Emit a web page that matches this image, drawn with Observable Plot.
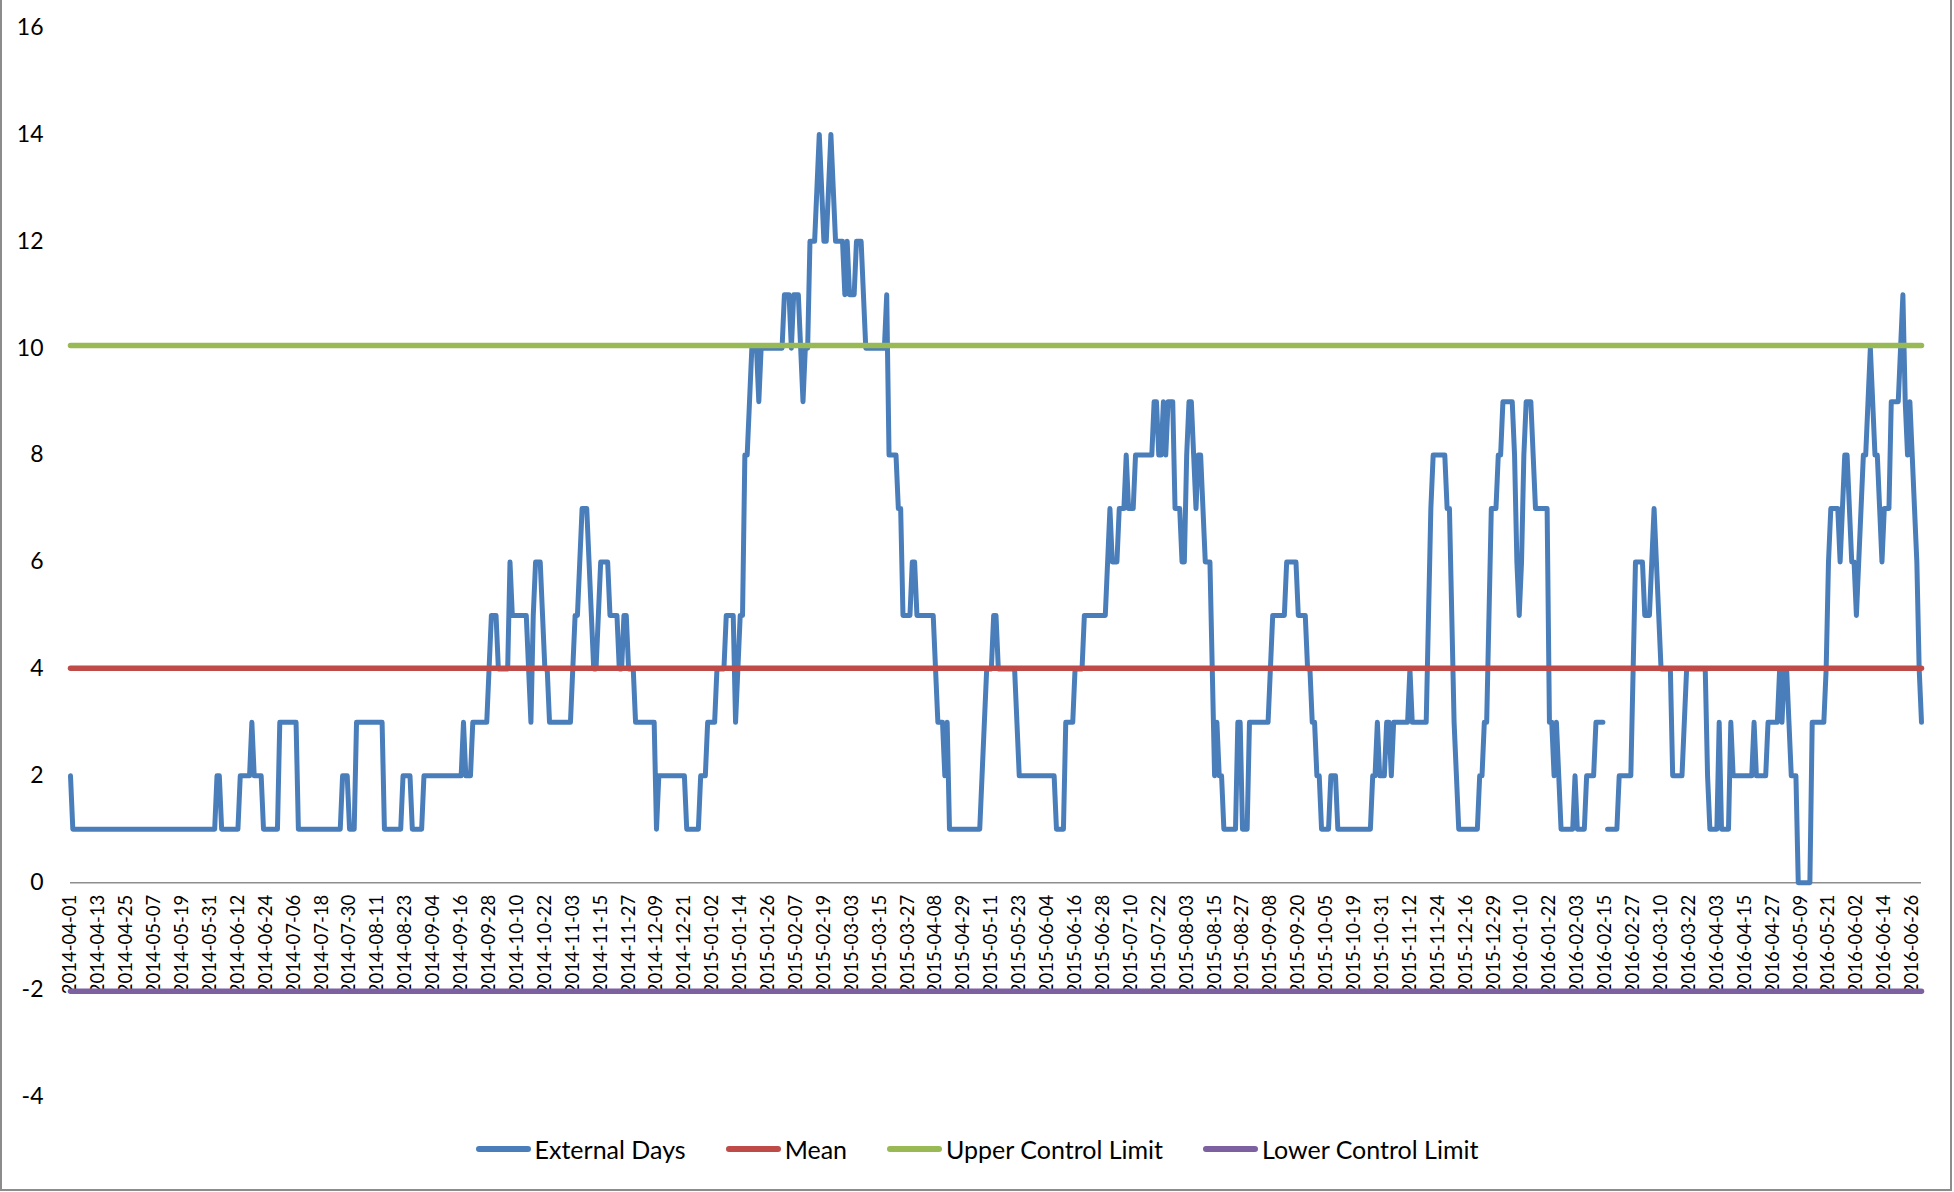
<!DOCTYPE html>
<html>
<head>
<meta charset="utf-8">
<script src="https://cdn.jsdelivr.net/npm/d3@7"></script>
<script src="https://cdn.jsdelivr.net/npm/@observablehq/plot@0.6"></script>
<style>
  html, body { margin: 0; padding: 0; background: #fff; }
  #wrap { position: relative; width: 1954px; height: 1192px; overflow: hidden; font-family: Lato, "Open Sans", sans-serif; }
  #frame { position: absolute; left: 0; top: -3px; width: 1948px; height: 1190px; border: 2px solid #8c8c8c; pointer-events: none; }
  #legend { display: flex; justify-content: center; align-items: center; height: 78px; font-size: 25px; color: #000; }
  .item { display: flex; align-items: center; margin: 0 20px; }
  .sw { display: inline-block; width: 55px; height: 6px; border-radius: 3px; margin-right: 4px; }
</style>
</head>
<body>
<div id="wrap">
  <div id="chart"></div>
  <div id="legend"></div>
  <div id="frame"></div>
</div>
<script>
const externalDaysRuns = [
  [2,1],[1,62],[2,2],[1,8],[2,5],[3,1],[2,4],[1,7],[3,8],[1,19],[2,3],[1,3],[3,12],[1,8],[2,4],[1,5],
  [2,17],[3,1],[2,3],[3,7],[4,1],[5,3],[4,5],[6,1],[5,7],[4,1],[3,1],[5,1],[6,3],[5,1],[4,2],[3,10],
  [4,1],[5,2],[6,1],[7,3],[6,1],[5,1],[4,2],[5,1],[6,4],[5,4],[4,2],[5,2],[4,3],[3,9],[1,1],[2,12],
  [1,6],[2,3],[3,4],[4,4],[5,4],[3,1],[4,1],[5,2],[8,2],[9,1],[10,3],[9,1],[10,10],[11,3],[10,1],[11,3],
  [10,1],[9,1],[10,2],[12,3],[13,1],[14,1],[13,1],[12,2],[13,1],[14,1],[13,1],[12,4],[11,1],[12,1],[11,3],
  [12,3],[11,1],[10,9],[11,1],[8,4],[7,2],[5,4],[6,2],[5,8],[4,1],[3,3],[2,1],[3,1],[1,14],[2,1],[3,1],
  [4,3],[5,2],[4,8],[3,1],[2,16],[1,4],[3,4],[4,4],[5,10],[6,1],[7,1],[6,3],[7,3],[8,1],[7,3],[8,8],
  [9,2],[8,2],[9,1],[8,1],[9,3],[7,3],[6,2],[8,1],[9,2],[8,1],[7,1],[8,2],[7,1],[6,3],[4,1],[2,1],[3,1],
  [2,2],[1,6],[3,2],[1,3],[3,9],[4,1],[5,6],[6,5],[5,4],[4,2],[3,2],[2,2],[1,4],[2,3],[1,15],[2,2],[3,1],
  [2,3],[3,2],[2,1],[3,7],[4,1],[3,7],[5,1],[7,1],[8,6],[7,2],[5,1],[3,1],[2,1],[1,9],[2,2],[3,2],[5,1],
  [7,3],[8,2],[9,5],[8,1],[6,1],[5,1],[6,1],[8,1],[9,3],[8,1],[7,6],[3,2],[2,1],[3,1],[2,1],[1,6],[2,1],
  [1,4],[2,4],[3,4],[null,1],[1,5],[2,6],[4,1],[6,4],[5,3],[6,1],[7,1],[6,1],[5,1],[4,5],[2,5],[3,1],
  [4,9],[2,1],[1,4],[3,1],[1,4],[3,1],[2,9],[3,1],[2,5],[3,5],[4,1],[3,1],[4,2],[3,1],[2,3],[0,6],[3,6],
  [4,1],[6,1],[7,4],[6,1],[7,1],[8,2],[7,1],[6,2],[5,1],[6,1],[7,1],[8,2],[9,1],[10,1],[9,1],[8,2],[7,1],
  [6,1],[7,3],[9,4],[10,1],[11,1],[9,1],[8,1],[9,1],[8,1],[7,1],[6,1],[4,1],[3,1]
];
const meanValue = 4.01;
const upperControlLimit = 10.05;
const lowerControlLimit = -2.03;
const yTicks = [-4, -2, 0, 2, 4, 6, 8, 10, 12, 14, 16];
const tickLabels = [
  "2014-04-01","2014-04-13","2014-04-25","2014-05-07","2014-05-19","2014-05-31","2014-06-12","2014-06-24",
  "2014-07-06","2014-07-18","2014-07-30","2014-08-11","2014-08-23","2014-09-04","2014-09-16","2014-09-28",
  "2014-10-10","2014-10-22","2014-11-03","2014-11-15","2014-11-27","2014-12-09","2014-12-21","2015-01-02",
  "2015-01-14","2015-01-26","2015-02-07","2015-02-19","2015-03-03","2015-03-15","2015-03-27","2015-04-08",
  "2015-04-29","2015-05-11","2015-05-23","2015-06-04","2015-06-16","2015-06-28","2015-07-10","2015-07-22",
  "2015-08-03","2015-08-15","2015-08-27","2015-09-08","2015-09-20","2015-10-05","2015-10-19","2015-10-31",
  "2015-11-12","2015-11-24","2015-12-16","2015-12-29","2016-01-10","2016-01-22","2016-02-03","2016-02-15",
  "2016-02-27","2016-03-10","2016-03-22","2016-04-03","2016-04-15","2016-04-27","2016-05-09","2016-05-21",
  "2016-06-02","2016-06-14","2016-06-26"
];
const labelEvery = 12;
const seriesNames = ["External Days", "Mean", "Upper Control Limit", "Lower Control Limit"];
const seriesColors = ["#4A7EBB", "#BE4B48", "#98B954", "#7D60A0"];

// build the table
const externalDays = externalDaysRuns.flatMap(([v, n]) => Array(n).fill(v));
const N = externalDays.length;
const rows = externalDays.map((v, i) => ({i, ext: v, mean: meanValue, ucl: upperControlLimit, lcl: lowerControlLimit}));
const ticks = tickLabels.map((label, k) => ({i: k * labelEvery, label}));

const lineOpts = {strokeLinejoin: "round", strokeLinecap: "round"};
const chart = Plot.plot({
  width: 1954,
  height: 1110,
  marginLeft: 70,
  marginRight: 33,
  marginTop: 27,
  marginBottom: 14,
  style: {fontFamily: "Lato, 'Open Sans', sans-serif", color: "#000", background: "#fff", overflow: "visible"},
  x: {domain: [0, N - 1], axis: null},
  y: {domain: [-4, 16], axis: null},
  marks: [
    Plot.axisY(yTicks, {tickSize: 0, tickPadding: 27, fontSize: 23, tickFormat: d => String(d), label: null}),
    Plot.ruleY([0], {stroke: "#8e8e8e", strokeWidth: 1.5}),
    Plot.text(ticks, {x: "i", y: () => 0, text: "label", rotate: -90, textAnchor: "end", dy: 12, fontSize: 18.5, fill: "#000"}),
    Plot.line(rows, {x: "i", y: "ext", stroke: seriesColors[0], strokeWidth: 5, ...lineOpts}),
    Plot.line(rows, {x: "i", y: "mean", stroke: seriesColors[1], strokeWidth: 5.5, ...lineOpts}),
    Plot.line(rows, {x: "i", y: "ucl", stroke: seriesColors[2], strokeWidth: 5.5, ...lineOpts}),
    Plot.line(rows, {x: "i", y: "lcl", stroke: seriesColors[3], strokeWidth: 5.5, ...lineOpts})
  ]
});
document.getElementById("chart").appendChild(chart);

const legend = document.getElementById("legend");
seriesNames.forEach((name, k) => {
  const item = document.createElement("div");
  item.className = "item";
  const sw = document.createElement("span");
  sw.className = "sw";
  sw.style.background = seriesColors[k];
  item.appendChild(sw);
  item.appendChild(document.createTextNode(name));
  legend.appendChild(item);
});
</script>
</body>
</html>
